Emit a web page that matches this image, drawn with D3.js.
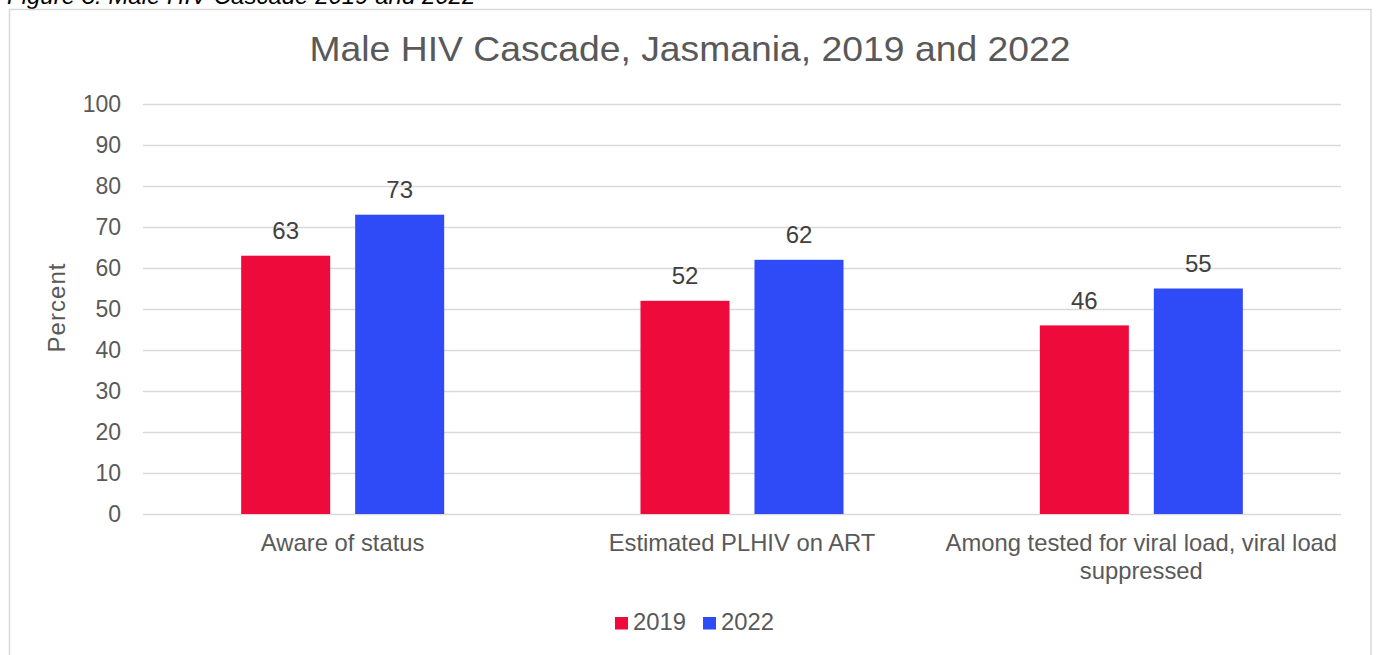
<!DOCTYPE html>
<html><head><meta charset="utf-8">
<script src="https://cdn.jsdelivr.net/npm/d3@7"></script>
<style>body{margin:0;background:#fff;overflow:hidden}svg{display:block;font-family:"Liberation Sans",Arial,sans-serif}</style>
</head><body><svg id="c" width="1378" height="655"></svg>
<script>
const categories = ["Aware of status", "Estimated PLHIV on ART", "Among tested for viral load, viral load suppressed"];
const categoryLines = [["Aware of status"], ["Estimated PLHIV on ART"], ["Among tested for viral load, viral load", "suppressed"]];
const seriesNames = ["2019", "2022"];
const values2019 = [63, 52, 46];
const values2022 = [73, 62, 55];
const yTicks = [0, 10, 20, 30, 40, 50, 60, 70, 80, 90, 100];
const colors = ["#EE0A3B", "#2E4BF7"];

const svg = d3.select("#c");
svg.append("text").attr("x", 7).attr("y", 4).attr("font-style", "italic").attr("font-size", 24).attr("fill", "#000").text("Figure 3: Male HIV Cascade 2019 and 2022");
svg.append("rect").attr("x", 9.5).attr("y", 9.5).attr("width", 1361.5).attr("height", 700).attr("fill", "#fff").attr("stroke", "#d9d9d9").attr("stroke-width", 1.5);

const m = {l: 143, r: 1341, t: 104, b: 514};
const x = d3.scaleBand().domain(categories).range([m.l, m.r]).paddingInner(0).paddingOuter(0);
const y = d3.scaleLinear().domain([0, 100]).range([m.b, m.t]);
const x1 = d3.scaleBand().domain(seriesNames).range([0, x.bandwidth()]).paddingInner(0.219).paddingOuter(0.861);

const yAxis = svg.append("g").attr("transform", `translate(${m.l},0)`).call(d3.axisLeft(y).tickValues(yTicks).tickSize(-(m.r - m.l)).tickPadding(22));
yAxis.select(".domain").remove();
yAxis.selectAll("line").attr("stroke", "#d9d9d9").attr("stroke-width", 1.5);
yAxis.selectAll("text").attr("font-size", 23).attr("fill", "#595959").attr("font-family", "Liberation Sans, Arial, sans-serif");

svg.append("text").attr("transform", "translate(65,308) rotate(-90)").attr("text-anchor", "middle").attr("font-size", 24).attr("fill", "#595959").attr("textLength", 89).attr("lengthAdjust", "spacing").text("Percent");

const series = [values2019, values2022];
categories.forEach((c, i) => {
  seriesNames.forEach((s, j) => {
    const v = series[j][i];
    const bx = x(c) + x1(s);
    svg.append("rect").attr("x", bx).attr("y", y(v)).attr("width", x1.bandwidth()).attr("height", y(0) - y(v)).attr("fill", colors[j]);
    svg.append("text").attr("x", bx + x1.bandwidth() / 2).attr("y", y(v) - 16.5).attr("text-anchor", "middle").attr("font-size", 24).attr("fill", "#404040").text(v);
  });
  const lines = categoryLines[i];
  lines.forEach((t, k) => {
    svg.append("text").attr("x", x(c) + x.bandwidth() / 2).attr("y", 551 + k * 28).attr("text-anchor", "middle").attr("font-size", 23.8).attr("fill", "#595959").text(t);
  });
});

svg.append("text").attr("x", 690).attr("y", 61).attr("text-anchor", "middle").attr("font-size", 35).attr("fill", "#595959").attr("textLength", 761).attr("lengthAdjust", "spacingAndGlyphs").text("Male HIV Cascade, Jasmania, 2019 and 2022");

const lg = svg.append("g");
const legendX = [615, 703];
seriesNames.forEach((s, j) => {
  lg.append("rect").attr("x", legendX[j]).attr("y", 617).attr("width", 13).attr("height", 12.5).attr("fill", colors[j]);
  lg.append("text").attr("x", legendX[j] + 18).attr("y", 629.5).attr("font-size", 23.8).attr("fill", "#595959").text(s);
});
</script></body></html>
